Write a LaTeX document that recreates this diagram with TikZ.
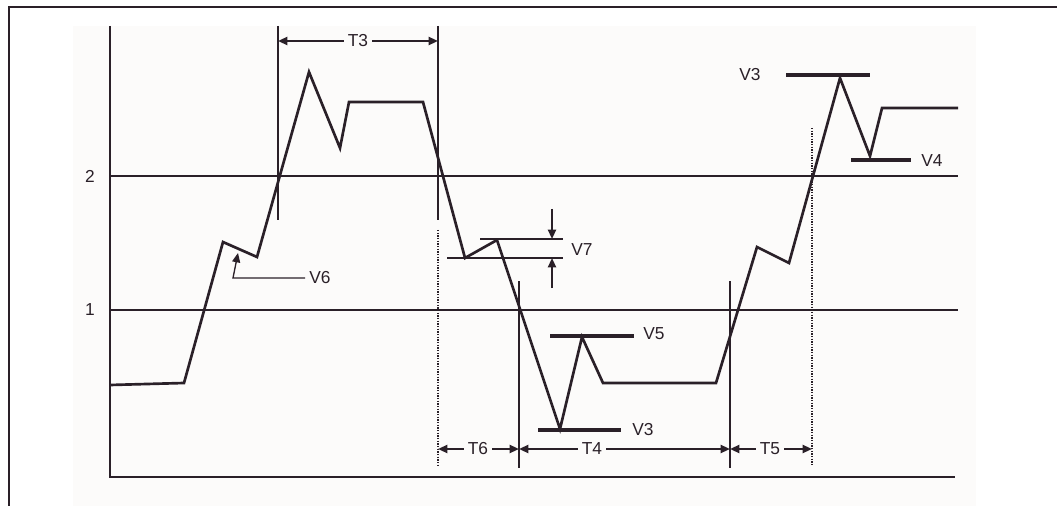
\documentclass[tikz,border=0pt]{standalone}
\usepackage{fontspec}
\setmainfont{Liberation Sans}
\usetikzlibrary{arrows.meta}

\definecolor{ink}{RGB}{42,32,40}
\definecolor{paper}{RGB}{252,251,250}

\begin{document}
\begin{tikzpicture}[x=0.75pt, y=-0.75pt, font=\fontsize{13}{15}\selectfont,
  grid/.style={draw=ink, line width=1pt},
  sig/.style={draw=ink, line width=2pt, line join=miter},
  lvl/.style={draw=ink, line width=3pt},
  tline/.style={draw=ink, line width=1pt},
  dotln/.style={draw=ink, line width=0.8pt, dash pattern=on 1pt off 1pt},
  dim/.style={draw=ink, line width=1.5pt, -{Triangle[length=7pt,width=6pt]}},
  lbl/.style={text=ink, inner sep=3pt}]
\useasboundingbox (0,0) rectangle (1057,506);

% page frame and plot area
\fill[paper] (73,26) rectangle (976,506);
\draw[ink, line width=1.6pt] (9,506) -- (9,7) -- (1057,7);

% axes and the two levels
\coordinate (o) at (110,477);
\draw[grid] (110,26) -- (o) -- (955,477);
\draw[grid] (110,176) -- (958,176);
\draw[grid] (110,310) -- (958,310);
\node[lbl] (l2) at (90,176) {2};
\node[lbl] (l1) at (90,310) {1};

% the signal
\draw[sig] (110,385) -- (184,383) -- (223,242) -- (257,257) -- (309,72)
  -- (340,148) -- (349,102) -- (423,102) -- (465,258) -- (497,240)
  -- (560,429) -- (582,337) -- (603,383) -- (716,383) -- (757,247)
  -- (789,263) -- (840,78) -- (870,156) -- (882,108) -- (958,108);

% time marks
\coordinate (ta) at (278,0);
\coordinate (tb) at (438,0);
\coordinate (tc) at (519,0);
\coordinate (td) at (730,0);
\coordinate (te) at (812,0);
\draw[tline] (278,26) -- (278,220);
\draw[tline] (438,26) -- (438,220);
\draw[dotln] (438,230) -- (438,467);
\draw[tline] (519,281) -- (519,468);
\draw[tline] (730,281) -- (730,468);
\draw[dotln] (812,128) -- (812,465);

% durations
\node[lbl] (t3) at (358,41) {T3};
\draw[dim] (t3.west) -- (t3 -| ta);
\draw[dim] (t3.east) -- (t3 -| tb);
\node[lbl] (t6) at (478,449) {T6};
\draw[dim] (t6.west) -- (t6 -| tb);
\draw[dim] (t6.east) -- (t6 -| tc);
\node[lbl] (t4) at (592,449) {T4};
\draw[dim] (t4.west) -- (t4 -| tc);
\draw[dim] (t4.east) -- (t4 -| td);
\node[lbl] (t5) at (770,449) {T5};
\draw[dim] (t5.west) -- (t5 -| td);
\draw[dim] (t5.east) -- (t5 -| te);

% V6
\node[lbl] (v6) at (320,278) {V6};
\coordinate (v6k) at (233,278);
\coordinate (v6p) at (238,253);
\draw[draw=ink, line width=1pt, -{Triangle[length=7pt,width=6pt]}]
  (v6.west) -- (v6k) -- (v6p);

% V7
\draw[draw=ink, line width=1.5pt] (480,239) -- (563,239);
\draw[draw=ink, line width=1.5pt] (447,258) -- (563,258);
\coordinate (v7hi) at (552,239);
\coordinate (v7lo) at (552,258);
\coordinate (v7a) at (552,209);
\coordinate (v7b) at (552,288);
\draw[dim] (v7a) -- (v7hi);
\draw[dim] (v7b) -- (v7lo);
\node[lbl] (v7) at (582,250) {V7};

% peak and trough levels
\draw[lvl] (550,336) -- (634,336);
\node[lbl] (v5) at (654,334) {V5};
\draw[lvl] (538,430) -- (621,430);
\node[lbl] (v3lo) at (643,430) {V3};
\draw[lvl] (786,75) -- (870,75);
\node[lbl] (v3hi) at (750,75) {V3};
\draw[lvl] (851,160) -- (911,160);
\node[lbl] (v4) at (932,161) {V4};
\end{tikzpicture}
\end{document}
